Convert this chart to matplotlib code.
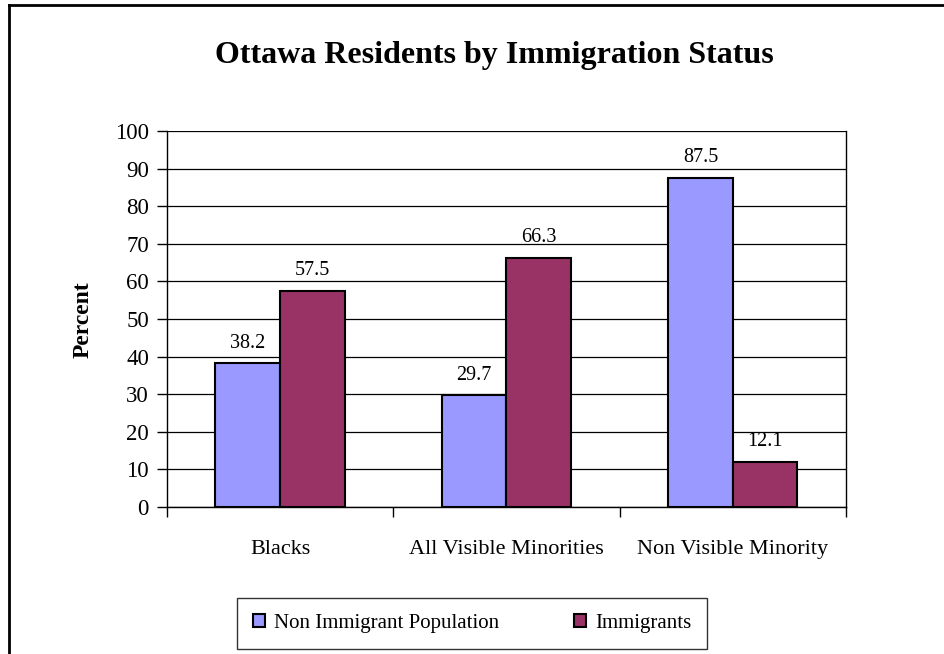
import matplotlib
matplotlib.use("Agg")
import matplotlib.pyplot as plt
from matplotlib.lines import Line2D
import numpy as np

# Ottawa residents by immigration status (percent)
categories = ["Blacks", "All Visible Minorities", "Non Visible Minority"]
non_immigrant = [38.2, 29.7, 87.5]
immigrants = [57.5, 66.3, 12.1]
series_names = ["Non Immigrant Population", "Immigrants"]

plt.rcParams['font.family'] = ['Liberation Serif', 'DejaVu Serif']

W, H = 944, 654
fig = plt.figure(figsize=(W / 100, H / 100), dpi=100)
ax = fig.add_axes([167 / W, 1 - 507 / H, (846 - 167) / W, (507 - 131) / H])

x = np.arange(len(categories))
bw = 1 / 3.5  # Excel-style gap width of 150%
b1 = ax.bar(x - bw / 2, non_immigrant, bw, color='#9999FF', edgecolor='black',
            linewidth=1.5, zorder=3, label=series_names[0])
b2 = ax.bar(x + bw / 2, immigrants, bw, color='#993366', edgecolor='black',
            linewidth=1.5, zorder=3, label=series_names[1])

for bars, vals in ((b1, non_immigrant), (b2, immigrants)):
    for rect, v in zip(bars, vals):
        ax.annotate(f"{v}", (rect.get_x() + rect.get_width() / 2, v),
                    xytext=(0, 14.5), textcoords='offset points',
                    ha='center', va='center', fontsize=14.5)

ax.set_xlim(-0.5, len(categories) - 0.5)
ax.set_ylim(0, 100)
ax.set_yticks(range(0, 101, 10))
ax.yaxis.grid(True, color='black', linewidth=0.9, zorder=0)
ax.set_axisbelow(True)

ax.set_xticks(x)
ax.set_xticklabels(categories, fontsize=16)
ax.set_xticks(np.arange(-0.5, len(categories)), minor=True)
ax.tick_params(axis='x', which='major', length=0, pad=24)
ax.tick_params(axis='x', which='minor', length=7, width=1, direction='out')
ax.tick_params(axis='y', length=7, width=1, direction='out', labelsize=16.5, pad=6)

ax.spines['top'].set_visible(False)
for s in ['left', 'right', 'bottom']:
    ax.spines[s].set_linewidth(1)

fig.text(83 / W, 1 - 320 / H, "Percent", rotation=90, ha='center', va='center',
         fontsize=17, fontweight='bold')
fig.text(494 / W, 1 - 55 / H, "Ottawa Residents by Immigration Status",
         ha='center', va='center', fontsize=23, fontweight='bold')

leg = fig.legend(loc='center', bbox_to_anchor=(472 / W, 1 - 623.5 / H), ncol=2,
                 fontsize=15, frameon=True, fancybox=False, edgecolor='black',
                 handlelength=0.6, handleheight=0.6, handletextpad=0.4,
                 columnspacing=3.6, borderpad=0.75)
leg.get_frame().set_linewidth(1)

# page frame along the top and left edges
fig.add_artist(Line2D([8.5 / W, 1.0], [1 - 4.5 / H, 1 - 4.5 / H], color='black', linewidth=2))
fig.add_artist(Line2D([8.5 / W, 8.5 / W], [0, 1 - 4.5 / H], color='black', linewidth=2))

fig.savefig("out.png", dpi=100)
